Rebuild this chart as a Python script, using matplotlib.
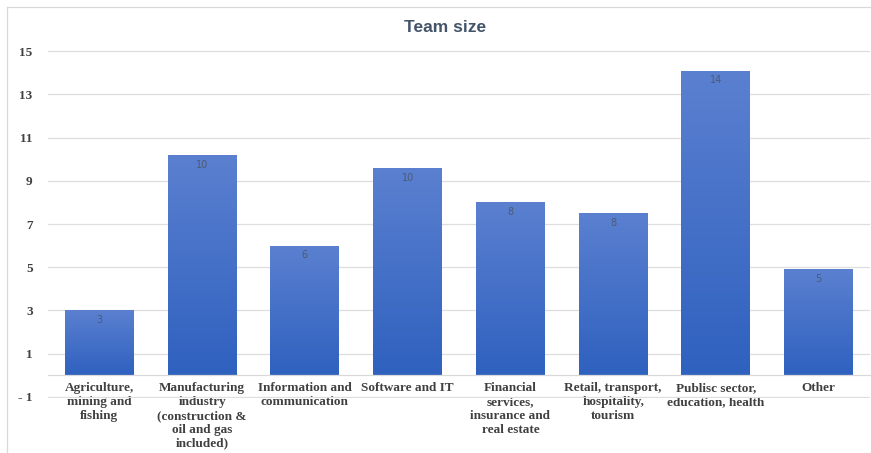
import numpy as np
import matplotlib
matplotlib.use("Agg")
import matplotlib.pyplot as plt
from matplotlib.colors import LinearSegmentedColormap
from matplotlib.lines import Line2D

categories = [
    "Agriculture,\nmining and\nfishing",
    "Manufacturing\nindustry\n(construction &\noil and gas\nincluded)",
    "Information and\ncommunication",
    "Software and IT",
    "Financial\nservices,\ninsurance and\nreal estate",
    "Retail, transport,\nhospitality,\ntourism",
    "Publisc sector,\neducation, health",
    "Other",
]
values = [3.0, 10.2, 6.0, 9.6, 8.0, 7.5, 14.1, 4.9]
value_labels = ["3", "10", "6", "10", "8", "8", "14", "5"]
yticks = [-1, 1, 3, 5, 7, 9, 11, 13, 15]
ytick_labels = ["- 1", "1", "3", "5", "7", "9", "11", "13", "15"]

W, H = 871, 453
fig = plt.figure(figsize=(W / 100, H / 100), dpi=100)
ax = fig.add_axes([48 / W, 1 - 398 / H, 822 / W, 348 / H])

x = np.arange(len(values))
bars = ax.bar(x, values, width=0.67, color="none", edgecolor="none", zorder=2)

# vertical gradient inside each bar
cmap = LinearSegmentedColormap.from_list("g", ["#2f61bf", "#5b80d0"])
grad = np.linspace(0, 1, 256).reshape(-1, 1)
for b in bars:
    x0, w, h = b.get_x(), b.get_width(), b.get_height()
    im = ax.imshow(grad, cmap=cmap, origin="lower", aspect="auto",
                   extent=[x0, x0 + w, 0, h], zorder=2)
    im.set_clip_path(b)

for xi, v, lab in zip(x, values, value_labels):
    ax.text(xi, v - 0.45, lab, ha="center", va="center", fontsize=7,
            color="#4d5a73", zorder=3)

ax.set_xlim(-0.5, len(values) - 0.5)
ax.set_ylim(-1.05, 15.05)
ax.set_yticks(yticks)
ax.set_yticklabels(ytick_labels)
ax.set_xticks(x)
ax.set_xticklabels(categories)
ax.tick_params(axis="both", length=0)
ax.tick_params(axis="y", pad=11)
ax.tick_params(axis="x", pad=5)
ax.grid(axis="y", color="#dedede", linewidth=0.9)
ax.set_axisbelow(True)
for s in ["top", "right", "left"]:
    ax.spines[s].set_visible(False)
ax.spines["bottom"].set_position(("data", 0))
ax.spines["bottom"].set_color("#d9d9d9")
ax.spines["bottom"].set_linewidth(0.9)
ax.patch.set_alpha(0)

for t in ax.get_yticklabels() + ax.get_xticklabels():
    t.set_fontfamily("Liberation Serif")
    t.set_fontweight("bold")
    t.set_fontsize(9.5)
    t.set_color("#404040")
for t in ax.get_xticklabels():
    t.set_linespacing(1.2)

fig.text(445 / W, 1 - 27 / H, "Team size", ha="center", va="center",
         fontsize=12.5, fontweight="bold", color="#44546a",
         fontfamily="Liberation Sans")

# outer chart frame
fig.add_artist(Line2D([7 / W, 7 / W], [0, 1 - 7 / H], color="#d9d9d9", lw=0.9))
fig.add_artist(Line2D([7 / W, 1], [1 - 7 / H, 1 - 7 / H], color="#d9d9d9", lw=0.9))

fig.savefig("out.png", dpi=100)
